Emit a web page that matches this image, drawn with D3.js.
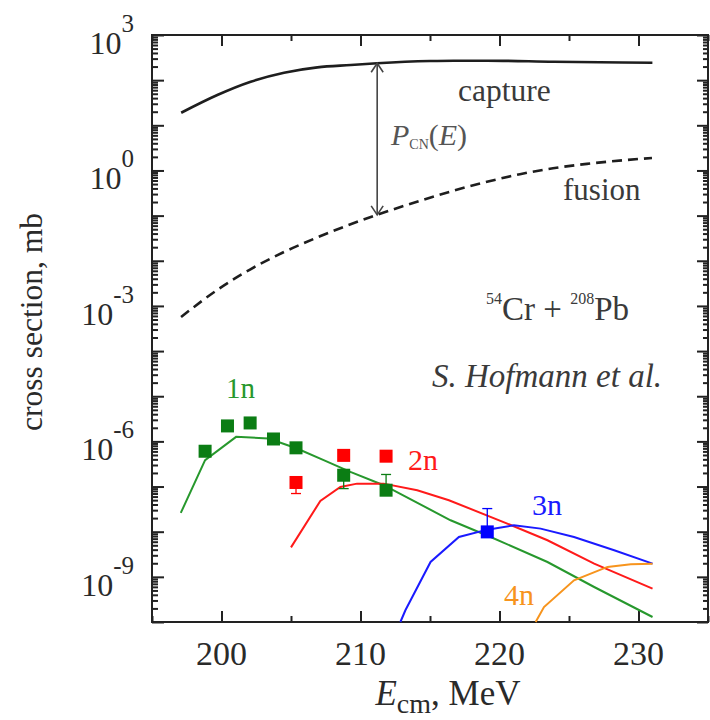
<!DOCTYPE html>
<html>
<head>
<meta charset="utf-8">
<script src="https://cdn.jsdelivr.net/npm/d3@7"></script>
<style>
  html, body { margin: 0; padding: 0; background: #fff; }
  svg text { font-family: "Liberation Serif", "Times New Roman", serif; }
</style>
</head>
<body>
<svg id="chart" width="710" height="720"></svg>
<script>
// ---------------- data ----------------
const xDomain = [195, 235];
const yDomain = [1e-10, 1e3];
const xTickMajor = [200, 210, 220, 230];
const xTickMinor = [195, 205, 215, 225, 235];
const yTickLabelExp = [3, 0, -3, -6, -9];

// capture (solid) and fusion (dashed) cross sections, mb
const captureE = [197.1, 199.7, 202.1, 204.5, 206.9, 209.3, 211.2, 215.0, 216.7, 219.1, 223.9, 231.0];
const captureSigma = [19.0, 46.9, 92.3, 146, 192, 216, 236, 265, 270, 270, 256, 243];
const fusionE = [197.09, 199.68, 202.05, 204.42, 206.87, 209.24, 211.19, 214.28, 216.65, 219.10, 221.47, 223.85, 226.29, 230.97];
const fusionSigma = [5.68e-4, 2.25e-3, 6.4e-3, 0.01524, 0.0327, 0.0635, 0.104, 0.213, 0.354, 0.561, 0.826, 1.12, 1.40, 1.89];

// evaporation residue channels (theory lines)
const line1nE = [197.07, 198.82, 201.05, 203.38, 205.43, 207.35, 209.27, 211.67, 216.48, 219.36, 223.45, 226.81, 231.01];
const line1nSigma = [2.6e-8, 3.83e-7, 1.26e-6, 1.16e-6, 6.95e-7, 3.83e-7, 2.11e-7, 1.07e-7, 1.79e-8, 7.64e-9, 2.13e-9, 5.96e-10, 1.29e-10];
const line2nE = [205.0, 207.11, 208.55, 209.75, 211.67, 214.08, 216.36, 220.56, 223.45, 226.81, 231.01];
const line2nSigma = [4.5e-9, 4.8e-8, 9.8e-8, 1.16e-7, 1.16e-7, 8.28e-8, 4.98e-8, 1.51e-8, 6.46e-9, 1.96e-9, 5.5e-10];
const line3nE = [212.87, 213.23, 215.04, 217.08, 219.12, 221.04, 222.96, 225.36, 228.25, 231.01];
const line3nSigma = [1e-10, 1.82e-10, 2.14e-9, 7.64e-9, 1.11e-8, 1.39e-8, 1.17e-8, 7.64e-9, 3.88e-9, 1.96e-9];
const line4nE = [222.6, 223.2, 225.36, 227.77, 229.45, 231.01];
const line4nSigma = [1e-10, 2.14e-10, 8.4e-10, 1.66e-9, 1.9e-9, 1.96e-9];

// experimental points (S. Hofmann et al.)
const exp1nE = [198.82, 200.43, 202.06, 203.74, 205.36, 208.79, 211.84];
const exp1nSigma = [6.05e-7, 2.2e-6, 2.56e-6, 1.13e-6, 7.2e-7, 1.78e-7, 8.3e-8];
const exp2nE = [205.36, 208.79, 211.84];
const exp2nSigma = [1.23e-7, 4.9e-7, 4.7e-7];
const exp3nE = [219.12];
const exp3nSigma = [9.9e-9];

// error bars: energy, low, high, channel
const errE = [205.36, 208.79, 211.84, 219.12];
const errLo = [7.0e-8, 9.0e-8, 8.3e-8, 9.9e-9];
const errHi = [1.23e-7, 1.78e-7, 1.85e-7, 3.25e-8];
const errChannel = ["2n", "1n", "1n", "3n"];

// P_CN arrow
const arrowE = 211.2;
const arrowTop = 236;
const arrowBottom = 0.104;

const channelColors = { "1n": "#27982d", "2n": "#ff1a1a", "3n": "#1a1aff", "4n": "#f7941d" };
const markerColors = { "1n": "#0b7d14", "2n": "#ff0000", "3n": "#0000ff" };

// ---------------- drawing ----------------
const svg = d3.select("#chart");
const pLeft = 152, pRight = 708, pTop = 35, pBottom = 622;

const x = d3.scaleLinear().domain(xDomain).range([pLeft, pRight]);
const y = d3.scaleLog().domain(yDomain).range([pBottom, pTop]);

const axisColor = "#222";

// minor/major log ticks
const yMajor = d3.range(-10, 4).map(e => Math.pow(10, e));
const yMinor = [];
for (let e = -10; e < 3; e++) for (let k = 2; k <= 9; k++) yMinor.push(k * Math.pow(10, e));

function drawAxis(gen, transform) {
  const g = svg.append("g").attr("transform", transform).call(gen);
  g.select(".domain").remove();
  g.selectAll("line").attr("stroke", axisColor).attr("stroke-width", 2);
  g.selectAll("text").remove();
  return g;
}

drawAxis(d3.axisLeft(y).tickValues(yMajor).tickSize(-12).tickFormat(""), `translate(${pLeft},0)`);
drawAxis(d3.axisLeft(y).tickValues(yMinor).tickSize(-6).tickFormat(""), `translate(${pLeft},0)`);
drawAxis(d3.axisRight(y).tickValues(yMajor).tickSize(-11).tickFormat(""), `translate(${pRight},0)`);
drawAxis(d3.axisRight(y).tickValues(yMinor).tickSize(-5).tickFormat(""), `translate(${pRight},0)`);
drawAxis(d3.axisBottom(x).tickValues(xTickMajor).tickSize(-11).tickFormat(""), `translate(0,${pBottom})`);
drawAxis(d3.axisBottom(x).tickValues(xTickMinor).tickSize(-6).tickFormat(""), `translate(0,${pBottom})`);
drawAxis(d3.axisTop(x).tickValues(xTickMajor).tickSize(-11).tickFormat(""), `translate(0,${pTop})`);
drawAxis(d3.axisTop(x).tickValues(xTickMinor).tickSize(-6).tickFormat(""), `translate(0,${pTop})`);

svg.append("rect")
  .attr("x", pLeft).attr("y", pTop)
  .attr("width", pRight - pLeft).attr("height", pBottom - pTop)
  .attr("fill", "none").attr("stroke", axisColor).attr("stroke-width", 2);

// y tick labels
yTickLabelExp.forEach(e => {
  const t = svg.append("text")
    .attr("x", 134).attr("y", y(Math.pow(10, e)) + 19)
    .attr("text-anchor", "end").attr("fill", "#2a2a2a");
  t.append("tspan").attr("font-size", 32).text("10");
  t.append("tspan").attr("font-size", 25).attr("dy", -22).text(String(e));
});

// x tick labels
xTickMajor.forEach(v => {
  svg.append("text")
    .attr("x", x(v)).attr("y", 665)
    .attr("text-anchor", "middle").attr("font-size", 34).attr("fill", "#2a2a2a")
    .text(v);
});

// axis titles
svg.append("text")
  .attr("transform", "translate(42,322) rotate(-90)")
  .attr("text-anchor", "middle").attr("font-size", 31.5).attr("fill", "#2a2a2a")
  .text("cross section, mb");

const xt = svg.append("text")
  .attr("x", 448).attr("y", 705)
  .attr("text-anchor", "middle").attr("font-size", 35).attr("fill", "#2a2a2a");
xt.append("tspan").attr("font-style", "italic").text("E");
xt.append("tspan").attr("font-size", 28).attr("dy", 8).text("cm");
xt.append("tspan").attr("dy", -8).text(", MeV");

// lines
const lineGen = (xs, ys, curve) => d3.line()
  .x((d, i) => x(xs[i])).y((d, i) => y(ys[i]))
  .curve(curve || d3.curveLinear)(xs);

const plot = svg.append("g");

plot.append("path").attr("d", lineGen(captureE, captureSigma, d3.curveMonotoneX))
  .attr("fill", "none").attr("stroke", "#1e1e1e").attr("stroke-width", 2.6);
plot.append("path").attr("d", lineGen(fusionE, fusionSigma, d3.curveMonotoneX))
  .attr("fill", "none").attr("stroke", "#1e1e1e").attr("stroke-width", 2.6)
  .attr("stroke-dasharray", "10,6");

const chLines = [
  ["1n", line1nE, line1nSigma],
  ["2n", line2nE, line2nSigma],
  ["3n", line3nE, line3nSigma],
  ["4n", line4nE, line4nSigma]
];
chLines.forEach(([ch, xs, ys]) => {
  plot.append("path").attr("d", lineGen(xs, ys))
    .attr("fill", "none").attr("stroke", channelColors[ch]).attr("stroke-width", 2);
});

// error bars
errE.forEach((e, i) => {
  const c = markerColors[errChannel[i]];
  const g = plot.append("g").attr("stroke", c).attr("stroke-width", 1.3);
  g.append("line").attr("x1", x(e)).attr("x2", x(e)).attr("y1", y(errLo[i])).attr("y2", y(errHi[i]));
  [errLo[i], errHi[i]].forEach(v => {
    g.append("line").attr("x1", x(e) - 5).attr("x2", x(e) + 5).attr("y1", y(v)).attr("y2", y(v));
  });
});

// markers
const sq = 13;
[["1n", exp1nE, exp1nSigma], ["2n", exp2nE, exp2nSigma], ["3n", exp3nE, exp3nSigma]].forEach(([ch, xs, ys]) => {
  plot.selectAll(null).data(xs).enter().append("rect")
    .attr("x", (d) => x(d) - sq / 2)
    .attr("y", (d, i) => y(ys[i]) - sq / 2)
    .attr("width", sq).attr("height", sq)
    .attr("fill", markerColors[ch]);
});

// P_CN arrow
const ax = x(arrowE), ay1 = y(arrowTop), ay2 = y(arrowBottom);
const ag = svg.append("g").attr("stroke", "#444").attr("stroke-width", 1.6).attr("fill", "none");
ag.append("line").attr("x1", ax).attr("x2", ax).attr("y1", ay1).attr("y2", ay2);
ag.append("path").attr("d", `M${ax - 6},${ay1 + 9}L${ax},${ay1}L${ax + 6},${ay1 + 9}`);
ag.append("path").attr("d", `M${ax - 6},${ay2 - 9}L${ax},${ay2}L${ax + 6},${ay2 - 9}`);

// annotations
const txtColor = "#3a3a3a";
svg.append("text").attr("x", 458).attr("y", 101).attr("font-size", 31.5).attr("fill", txtColor).text("capture");
svg.append("text").attr("x", 563).attr("y", 200).attr("font-size", 31).attr("fill", txtColor).text("fusion");

const pcn = svg.append("text").attr("x", 391).attr("y", 145).attr("font-size", 30).attr("fill", "#555");
pcn.append("tspan").attr("font-style", "italic").text("P");
pcn.append("tspan").attr("font-size", 14).attr("dy", 4).text("CN");
pcn.append("tspan").attr("dy", -4).text("(");
pcn.append("tspan").attr("font-style", "italic").text("E");
pcn.append("tspan").text(")");

const rx = svg.append("text").attr("x", 486).attr("y", 320).attr("font-size", 33).attr("fill", txtColor);
rx.append("tspan").attr("font-size", 16).attr("dy", -16).text("54");
rx.append("tspan").attr("dy", 16).text("Cr + ");
rx.append("tspan").attr("font-size", 16).attr("dy", -16).text("208");
rx.append("tspan").attr("dy", 16).text("Pb");

svg.append("text").attr("x", 432).attr("y", 387).attr("font-size", 33)
  .attr("font-style", "italic").attr("fill", txtColor).text("S. Hofmann et al.");

// channel labels
svg.append("text").attr("x", 226).attr("y", 398).attr("font-size", 29).attr("fill", channelColors["1n"]).text("1n");
svg.append("text").attr("x", 408).attr("y", 470).attr("font-size", 30).attr("fill", channelColors["2n"]).text("2n");
svg.append("text").attr("x", 532).attr("y", 515).attr("font-size", 30).attr("fill", channelColors["3n"]).text("3n");
svg.append("text").attr("x", 504).attr("y", 605).attr("font-size", 30).attr("fill", channelColors["4n"]).text("4n");
</script>
</body>
</html>
